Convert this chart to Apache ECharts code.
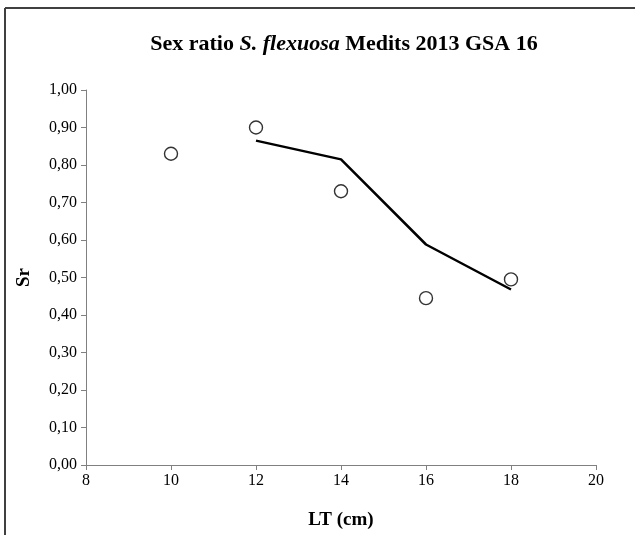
<!DOCTYPE html>
<html>
<head>
<meta charset="utf-8">
<script src="https://cdn.jsdelivr.net/npm/echarts@6/dist/echarts.min.js"></script>
<style>
html,body{margin:0;padding:0;background:#fff;}
#chart{width:635px;height:535px;}
</style>
</head>
<body>
<div id="chart"></div>
<script>
var lengths = [10, 12, 14, 16, 18];
var observed = [0.83, 0.90, 0.73, 0.445, 0.495];
var fitX = [12, 14, 16, 18];
var fitted = [0.865, 0.815, 0.588, 0.468];

var chart = echarts.init(document.getElementById('chart'));
var font = '"Liberation Serif", "Times New Roman", serif';
var axisGray = '#808080';

chart.setOption({
  animation: false,
  backgroundColor: '#fff',
  title: {
    text: '{b|Sex ratio }{bi|S. flexuosa}{b| Medits 2013 GSA 16}',
    left: 339,
    top: 28,
    textAlign: 'center',
    textStyle: {
      rich: {
        b: {fontFamily: font, fontWeight: 'bold', fontSize: 22, color: '#000'},
        bi: {fontFamily: font, fontWeight: 'bold', fontStyle: 'italic', fontSize: 22, color: '#000'}
      }
    }
  },
  graphic: [
    {type: 'line', shape: {x1: 5, y1: 8, x2: 635, y2: 8}, style: {stroke: '#404040', lineWidth: 2}},
    {type: 'line', shape: {x1: 5, y1: 8, x2: 5, y2: 535}, style: {stroke: '#404040', lineWidth: 2}}
  ],
  grid: {left: 86, right: 39, top: 90, bottom: 69},
  xAxis: {
    type: 'value', min: 8, max: 20, interval: 2,
    name: 'LT (cm)', nameLocation: 'middle', nameGap: 46,
    nameTextStyle: {fontFamily: font, fontWeight: 'bold', fontSize: 19, color: '#000'},
    axisLine: {lineStyle: {color: axisGray, width: 1}},
    axisTick: {show: true, length: 5, lineStyle: {color: axisGray}},
    axisLabel: {fontFamily: font, fontSize: 16, color: '#000', margin: 8},
    splitLine: {show: false}
  },
  yAxis: {
    type: 'value', min: 0, max: 1, interval: 0.1,
    name: 'Sr', nameLocation: 'middle', nameGap: 52,
    nameTextStyle: {fontFamily: font, fontWeight: 'bold', fontSize: 19, color: '#000'},
    axisLine: {show: true, lineStyle: {color: axisGray, width: 1}},
    axisTick: {show: true, length: 5, lineStyle: {color: axisGray}},
    axisLabel: {fontFamily: font, fontSize: 16, color: '#000', margin: 9,
      formatter: function (v) { return v.toFixed(2).replace('.', ','); }},
    splitLine: {show: false}
  },
  series: [
    {
      type: 'line',
      data: fitX.map(function (x, i) { return [x, fitted[i]]; }),
      showSymbol: false,
      lineStyle: {color: '#000', width: 2.5},
      z: 2
    },
    {
      type: 'scatter',
      data: lengths.map(function (x, i) { return [x, observed[i]]; }),
      symbol: 'circle',
      symbolSize: 13,
      itemStyle: {color: '#fff', borderColor: '#000', borderWidth: 1.4},
      z: 3
    }
  ]
});
</script>
</body>
</html>
